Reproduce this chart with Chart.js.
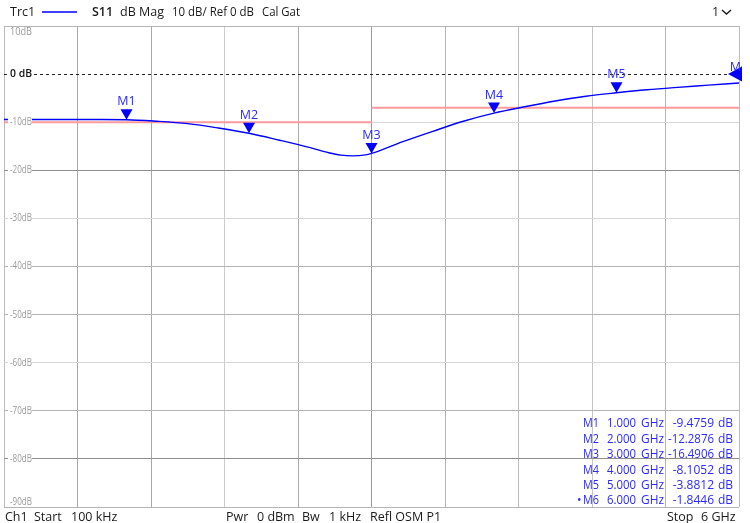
<!DOCTYPE html>
<html>
<head>
<meta charset="utf-8">
<script src="https://cdn.jsdelivr.net/npm/chart.js@4.4.0/dist/chart.umd.min.js"></script>
<style>
  html, body { margin: 0; padding: 0; background: #fff; }
  #wrap { width: 750px; height: 523px; }
</style>
</head>
<body>
<div id="wrap"><canvas id="myChart" width="750" height="523"></canvas></div>
<script>
// S11 trace (GHz / dB)
var freqGHz = [0.0001, 0.25, 0.5, 0.75, 1.0, 1.25, 1.5, 1.75, 2.0, 2.25, 2.5, 2.65, 2.75, 2.85, 2.95, 3.0,
               3.25, 3.5, 3.75, 4.0, 4.25, 4.5, 4.75, 5.0, 5.25, 5.5, 5.75, 6.0];
var s11dB = [-9.45, -9.45, -9.44, -9.45, -9.48, -9.8, -10.3, -11.2, -12.29, -13.75, -15.3, -16.35, -16.85, -17.0, -16.8, -16.49,
             -14.1, -11.9, -9.8, -8.11, -6.8, -5.6, -4.6, -3.88, -3.25, -2.75, -2.3, -1.84];

// markers
var markerNames = ['M1', 'M2', 'M3', 'M4', 'M5', 'M6'];
var markerFreqGHz = [1, 2, 3, 4, 5, 6];
var markerDB = [-9.4759, -12.2876, -16.4906, -8.1052, -3.8812, -1.8446];
var markerFreqText = ['1.000', '2.000', '3.000', '4.000', '5.000', '6.000'];
var markerValText = ['-9.4759', '-12.2876', '-16.4906', '-8.1052', '-3.8812', '-1.8446'];

// limit lines (two segments)
var limitFreqA = [0, 3];
var limitDBA = [-10, -10];
var limitFreqB = [3, 6];
var limitDBB = [-7, -7];

// y axis
var yTicks = [10, 0, -10, -20, -30, -40, -50, -60, -70, -80, -90];
var yTickLabels = ['10dB', '0 dB', '-10dB', '-20dB', '-30dB', '-40dB', '-50dB', '-60dB', '-70dB', '-80dB', '-90dB'];

function pts(xs, ys) {
  return xs.map(function (x, i) { return { x: x, y: ys[i] }; });
}

var FONT = '"Open Sans", "DejaVu Sans", sans-serif';
var MBLUE = '#2a2aff';

var overlay = {
  id: 'overlay',
  beforeDatasetsDraw: function (chart) {
    var c = chart.ctx, a = chart.chartArea, y = chart.scales.y;
    // 0 dB reference line
    var y0 = Math.round(y.getPixelForValue(0)) + 0.5;
    c.save();
    c.strokeStyle = '#222';
    c.lineWidth = 1;
    c.setLineDash([3, 3]);
    c.beginPath();
    c.moveTo(a.left, y0);
    c.lineTo(a.right, y0);
    c.stroke();
    c.restore();
  },
  afterDatasetsDraw: function (chart) {
    var c = chart.ctx, a = chart.chartArea, xs = chart.scales.x, ys = chart.scales.y;
    c.save();

    // y labels inside the plot
    c.textBaseline = 'middle';
    c.textAlign = 'left';
    yTicks.forEach(function (v, i) {
      var py = ys.getPixelForValue(v);
      if (i === 0) py += 6;
      if (i === yTicks.length - 1) py -= 5;
      c.fillStyle = '#fff';
      c.fillRect(8, py - 5, 24, 10);
      if (v === 0) {
        c.font = '600 10.5px ' + FONT;
        c.fillStyle = '#111';
      } else {
        c.font = '10.5px ' + FONT;
        c.fillStyle = '#9a9a9a';
      }
      c.fillText(yTickLabels[i], 10, py, 22);
    });

    // markers on the trace
    c.beginPath();
    c.rect(a.left, 0, a.right - a.left + 3, a.bottom);
    c.clip();
    markerNames.forEach(function (name, i) {
      var px = xs.getPixelForValue(markerFreqGHz[i]);
      var py = ys.getPixelForValue(markerDB[i]);
      c.fillStyle = '#0000ff';
      c.beginPath();
      if (i === markerNames.length - 1) {
        c.moveTo(px - 11, py - 9);
        c.lineTo(px + 4, py - 17);
        c.lineTo(px + 4, py - 1);
      } else {
        c.moveTo(px - 6, py - 10.5);
        c.lineTo(px + 6, py - 10.5);
        c.lineTo(px, py);
      }
      c.closePath();
      c.fill();
      c.font = '12.5px ' + FONT;
      c.fillStyle = MBLUE;
      c.textAlign = 'center';
      c.textBaseline = 'middle';
      c.fillText(name, px, py - (i === markerNames.length - 1 ? 16 : 18));
    });
    c.restore();
  },
  afterDraw: function (chart) {
    var c = chart.ctx;
    c.save();
    c.textBaseline = 'middle';
    c.textAlign = 'left';

    // header
    c.font = '12.5px ' + FONT;
    c.fillStyle = '#1a1a1a';
    c.fillText('Trc1', 10, 12);
    c.strokeStyle = '#0000ff';
    c.lineWidth = 1.5;
    c.beginPath();
    c.moveTo(42, 12);
    c.lineTo(77, 12);
    c.stroke();
    c.font = '600 12.5px ' + FONT;
    c.fillText('S11', 92, 12);
    c.font = '12.5px ' + FONT;
    c.fillText('dB Mag', 120, 12);
    c.fillText('10 dB/ Ref 0 dB', 172, 12, 82);
    c.fillText('Cal Gat', 262, 12, 38);
    c.fillText('1', 712, 12);
    c.strokeStyle = '#1a1a1a';
    c.lineWidth = 1.4;
    c.beginPath();
    c.moveTo(722, 10);
    c.lineTo(726.5, 14);
    c.lineTo(731, 10);
    c.stroke();

    // footer
    c.fillText('Ch1', 5, 517);
    c.fillText('Start', 34, 517);
    c.fillText('100 kHz', 71, 517);
    c.fillText('Pwr', 226, 517);
    c.fillText('0 dBm', 257, 517);
    c.fillText('Bw', 302, 517);
    c.fillText('1 kHz', 329, 517);
    c.fillText('Refl OSM P1', 370, 517);
    c.fillText('Stop', 667, 517);
    c.fillText('6 GHz', 701, 517);

    // marker table
    c.fillStyle = MBLUE;
    c.font = '12px ' + FONT;
    markerNames.forEach(function (name, i) {
      var ty = 424 + i * 15.4;
      c.textAlign = 'left';
      if (i === markerNames.length - 1) c.fillText('\u2022', 577, ty);
      c.fillText(name, 583, ty, 16);
      c.fillText(markerFreqText[i], 607, ty, 29);
      c.fillText('GHz', 641, ty, 23);
      c.textAlign = 'right';
      c.fillText(markerValText[i], 714, ty, 46);
      c.textAlign = 'left';
      c.fillText('dB', 718, ty, 19);
    });
    c.restore();
  }
};

var xGridColors = ['#bdbdbd', '#a8a8a8', '#a8a8a8', '#cccccc', '#ababab', '#999999', '#b4b4b4', '#bcbcbc', '#c4c4c4', '#b4b4b4', '#bdbdbd'];
var yGridColor = function (ctx) {
  var v = ctx.tick ? Math.round(ctx.tick.value) : 0;
  if (v === 0) return 'rgba(0,0,0,0)';
  if (v === -20 || v === -80) return '#8f8f8f';
  if (v === -30 || v === -10 || v === -60) return '#d6d6d6';
  return '#b4b4b4';
};

var ctx = document.getElementById('myChart');
var chart = new Chart(ctx, {
  type: 'line',
  data: {
    datasets: [{
      label: 'S11',
      data: pts(freqGHz, s11dB),
      borderColor: '#0000ff',
      borderWidth: 1.4,
      pointRadius: 0,
      cubicInterpolationMode: 'monotone',
      order: 0
    }, {
      label: 'limit a',
      data: pts(limitFreqA, limitDBA),
      borderColor: '#ff9a9a',
      borderWidth: 2,
      pointRadius: 0,
      order: 1
    }, {
      label: 'limit b',
      data: pts(limitFreqB, limitDBB),
      borderColor: '#ff9a9a',
      borderWidth: 2,
      pointRadius: 0,
      order: 1
    }]
  },
  options: {
    responsive: false,
    animation: false,
    devicePixelRatio: 1,
    layout: { padding: { left: 4, right: 11, top: 26, bottom: 16 } },
    plugins: { legend: { display: false }, tooltip: { enabled: false } },
    scales: {
      x: {
        type: 'linear', min: 0, max: 6,
        ticks: { display: false, count: 11 },
        grid: {
          drawTicks: false,
          color: function (ctx) { return xGridColors[ctx.index] || '#bdbdbd'; }
        },
        border: { display: false }
      },
      y: {
        min: -90, max: 10,
        ticks: { display: false, stepSize: 10 },
        grid: { drawTicks: false, color: yGridColor },
        border: { display: false }
      }
    }
  },
  plugins: [overlay]
});
</script>
</body>
</html>
